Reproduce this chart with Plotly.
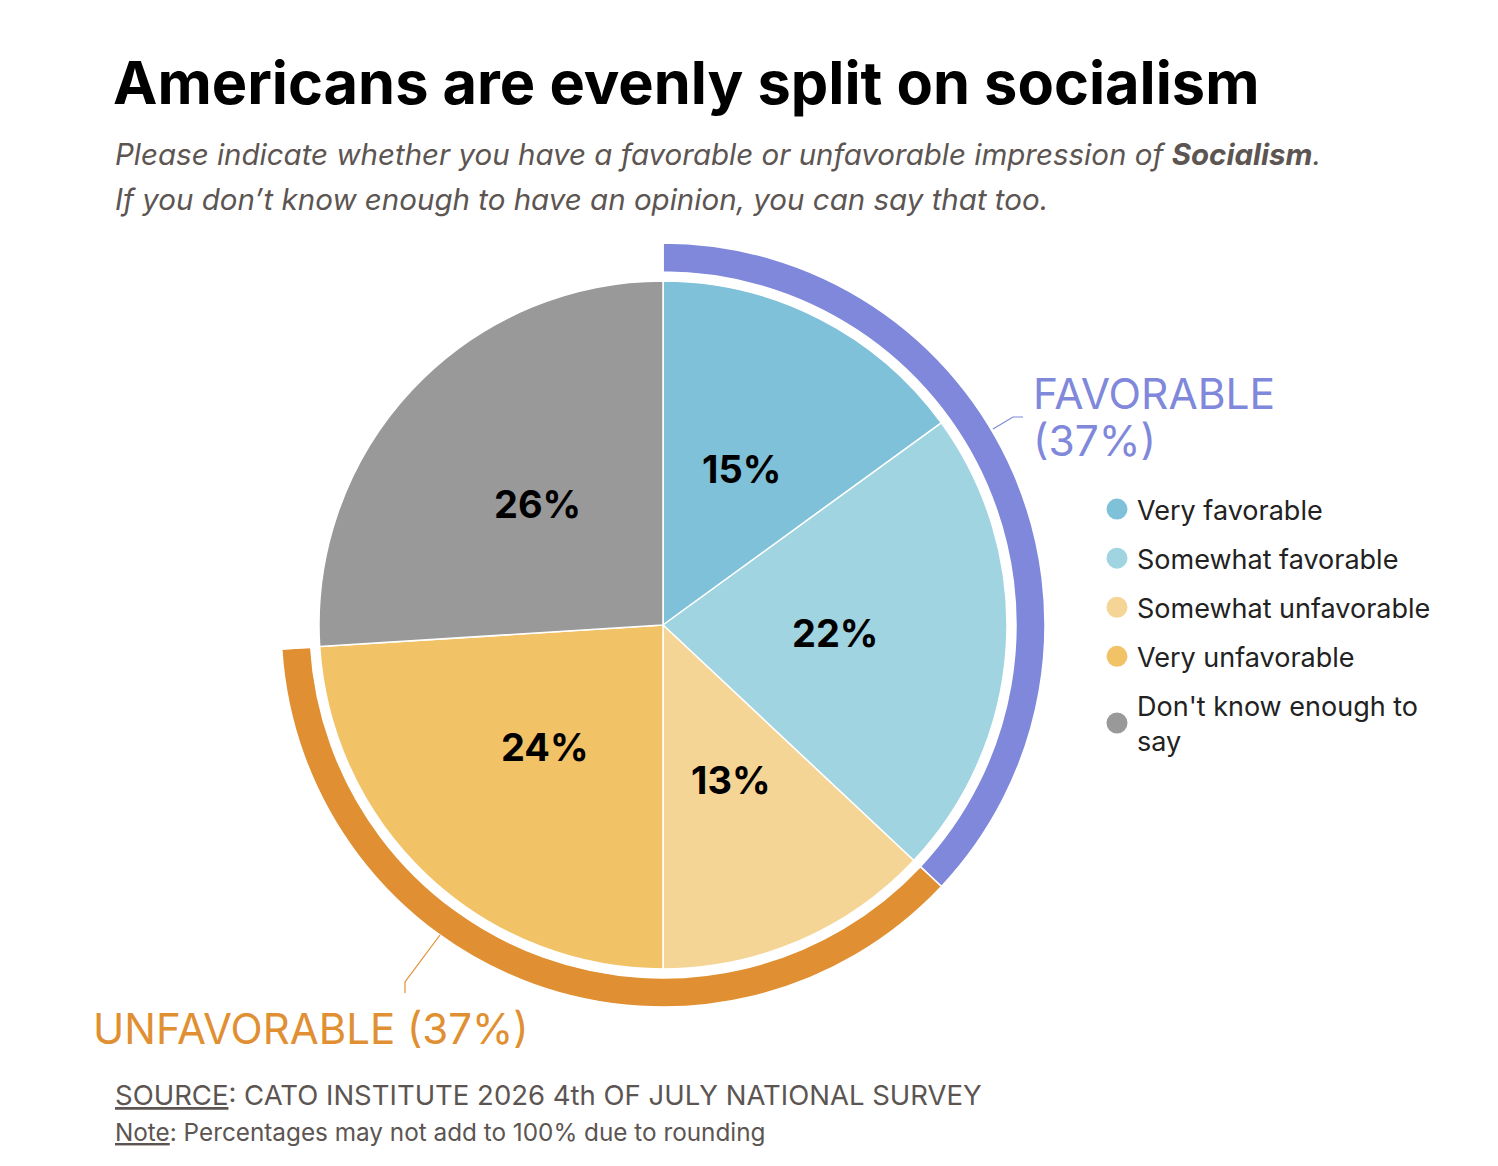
import math
import plotly.graph_objects as go

# ---- data ----
categories = ["Very favorable", "Somewhat favorable", "Somewhat unfavorable",
              "Very unfavorable", "Don't know enough to say"]
values = [15, 22, 13, 24, 26]
slice_colors = ["#7FC1D9", "#A0D4E1", "#F5D596", "#F2C366", "#999999"]
group_labels = ["FAVORABLE", "UNFAVORABLE", ""]
group_colors = ["#7F88DB", "#E09032", "rgba(0,0,0,0)"]

W, H = 1498, 1166
OFF = 8  # page body margin
def px(x):
    return (x - OFF) / W
def py(y):
    return 1 - (y - OFF) / H

fav = values[0] + values[1]
unfav = values[2] + values[3]
dk = values[4]
group_values = [fav, unfav, dk]

# geometry (pixels)
cx, cy = 663, 625
r_pie = 344
r_ring = 382

fig = go.Figure()

fig.add_trace(go.Pie(
    values=group_values, labels=["fav", "unfav", "dk"],
    marker=dict(colors=group_colors, line=dict(color="white", width=1.5)),
    hole=353 / 382, sort=False, direction="clockwise", rotation=0,
    textinfo="none", hoverinfo="skip", showlegend=False,
    domain=dict(x=[px(cx - r_ring), px(cx + r_ring)], y=[py(cy + r_ring), py(cy - r_ring)]),
))

fig.add_trace(go.Pie(
    values=values, labels=categories,
    marker=dict(colors=slice_colors, line=dict(color="white", width=1.5)),
    sort=False, direction="clockwise", rotation=0,
    textinfo="none", showlegend=False, hoverinfo="label+value",
    domain=dict(x=[px(cx - r_pie), px(cx + r_pie)], y=[py(cy + r_pie), py(cy - r_pie)]),
))

# legend entries
for i, (cat, col) in enumerate(zip(categories, slice_colors)):
    name = cat.replace("enough to say", "enough to<br>say")
    fig.add_trace(go.Scatter(
        x=[None], y=[None], mode="markers", name=name, legendgroup=str(i),
        marker=dict(size=16, color=col, line=dict(color=col, width=5)),
        hoverinfo="skip",
    ))

annots = [
    dict(text="<b>Americans are evenly split on socialism</b>", x=px(111), y=py(82),
         font=dict(size=59.5, color="black")),
    dict(text="<i>Please indicate whether you have a favorable or unfavorable impression of <b>Socialism</b>.</i>",
         x=px(113), y=py(154), font=dict(size=29.5, color="#5C5552")),
    dict(text="<i>If you don\u2019t know enough to have an opinion, you can say that too.</i>",
         x=px(113), y=py(199), font=dict(size=29.5, color="#5C5552")),
    dict(text=group_labels[0], x=px(1031), y=py(393), font=dict(size=42.5, color=group_colors[0])),
    dict(text=f"({fav}%)", x=px(1031), y=py(440), font=dict(size=42.5, color=group_colors[0])),
    dict(text=f"{group_labels[1]} ({unfav}%)", x=px(91), y=py(1028), font=dict(size=42, color=group_colors[1])),
    dict(text="<u>SOURCE</u>: CATO INSTITUTE 2026 4th OF JULY NATIONAL SURVEY", x=px(113), y=py(1095),
         font=dict(size=27.5, color="#5C5552")),
    dict(text="<u>Note</u>: Percentages may not add to 100% due to rounding", x=px(113), y=py(1132),
         font=dict(size=24.3, color="#5C5552")),
]
annotations = []
for a in annots:
    a.update(xref="paper", yref="paper", xanchor="left", yanchor="middle", showarrow=False)
    annotations.append(a)

# percentage labels at half radius along each slice's mid-angle (clockwise from 12 o'clock)
total = sum(values)
cum = 0
for v in values:
    theta = 2 * math.pi * (cum + v / 2) / total
    cum += v
    lx = cx + 0.5 * r_pie * math.sin(theta)
    ly = cy - 0.5 * r_pie * math.cos(theta) - 3
    annotations.append(dict(text=f"<b>{v}%</b>", x=px(lx), y=py(ly), xref="paper", yref="paper",
                            xanchor="center", yanchor="middle", showarrow=False,
                            font=dict(size=38, color="black", family="Inter")))

shapes = [
    dict(type="path", xref="paper", yref="paper",
         path=f"M{px(993)},{py(429)} L{px(1013)},{py(417)} L{px(1023)},{py(417)}",
         line=dict(color=group_colors[0], width=1.2)),
    dict(type="path", xref="paper", yref="paper",
         path=f"M{px(440)},{py(935)} L{px(405)},{py(982)} L{px(405)},{py(993)}",
         line=dict(color=group_colors[1], width=1.2)),
]

fig.update_layout(
    width=W, height=H,
    margin=dict(l=0, r=0, t=0, b=0),
    paper_bgcolor="white", plot_bgcolor="white",
    font=dict(family="Inter", color="#222222"),
    xaxis=dict(visible=False), yaxis=dict(visible=False),
    annotations=annotations, shapes=shapes,
    legend=dict(x=px(1097), y=py(485), xanchor="left", yanchor="top",
                font=dict(size=27, color="#222222", family="Inter"),
                tracegroupgap=11, bgcolor="rgba(0,0,0,0)"),
)

fig.write_html("out.html")
